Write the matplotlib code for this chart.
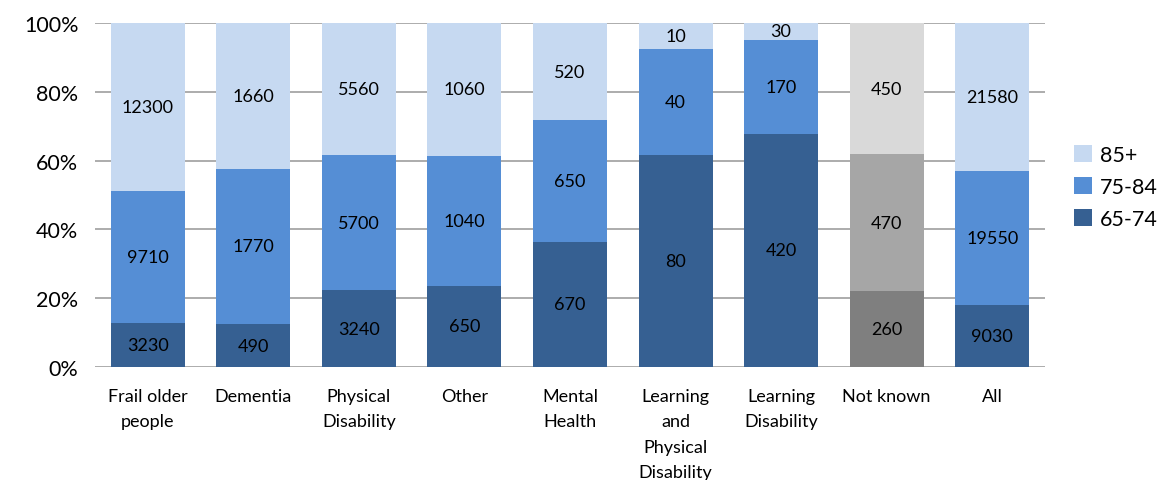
import matplotlib.pyplot as plt
import numpy as np

plt.rcParams['font.family'] = ['Lato', 'DejaVu Sans']

categories = ["Frail older\npeople", "Dementia", "Physical\nDisability", "Other",
              "Mental\nHealth", "Learning\nand\nPhysical\nDisability",
              "Learning\nDisability", "Not known", "All"]
age_65_74 = [3230, 490, 3240, 650, 670, 80, 420, 260, 9030]
age_75_84 = [9710, 1770, 5700, 1040, 650, 40, 170, 470, 19550]
age_85_plus = [12300, 1660, 5560, 1060, 520, 10, 30, 450, 21580]
series_names = ["65-74", "75-84", "85+"]

blues = ["#366092", "#558ED5", "#C6D9F1"]
greys = ["#7F7F7F", "#A6A6A6", "#D9D9D9"]
not_known_idx = 7

counts = np.array([age_65_74, age_75_84, age_85_plus], dtype=float)
pct = counts / counts.sum(axis=0) * 100

fig = plt.figure(figsize=(11.61, 4.81), dpi=100)
ax = fig.add_axes([95 / 1161, 1 - 368 / 481, 950 / 1161, 344 / 481])

x = np.arange(len(categories))
bottom = np.zeros(len(categories))
handles = []
for i, name in enumerate(series_names):
    colors = [greys[i] if j == not_known_idx else blues[i] for j in range(len(categories))]
    bars = ax.bar(x, pct[i], bottom=bottom, width=0.70, color=colors, zorder=2)
    handles.append(bars[0])
    for j in range(len(categories)):
        ax.text(x[j], bottom[j] + pct[i][j] / 2, f"{int(counts[i][j])}",
                ha="center", va="center", fontsize=13, color="black", zorder=3)
    bottom += pct[i]

ax.set_xlim(-0.5, len(categories) - 0.5)
ax.set_ylim(0, 100)
ax.set_yticks(range(0, 101, 20))
ax.set_yticklabels([f"{v}%" for v in range(0, 101, 20)], fontsize=15.5)
ax.set_xticks(x)
ax.set_xticklabels(categories, fontsize=13, linespacing=1.72, va="top")
ax.tick_params(axis="both", length=0)
ax.tick_params(axis="x", pad=15)
ax.tick_params(axis="y", pad=12)
ax.grid(axis="y", color="#A6A6A6", linewidth=1.3, zorder=0)
ax.set_axisbelow(True)
for s in ax.spines.values():
    s.set_visible(False)

leg = fig.legend(handles[::-1], series_names[::-1], loc="center left",
                 bbox_to_anchor=(1068 / 1161, 1 - 188 / 481), frameon=False,
                 fontsize=15.5, handlelength=0.8, handleheight=0.8,
                 handletextpad=0.4, labelspacing=0.55, borderaxespad=0,
                 borderpad=0.3)

fig.savefig("out.png", dpi=100)
